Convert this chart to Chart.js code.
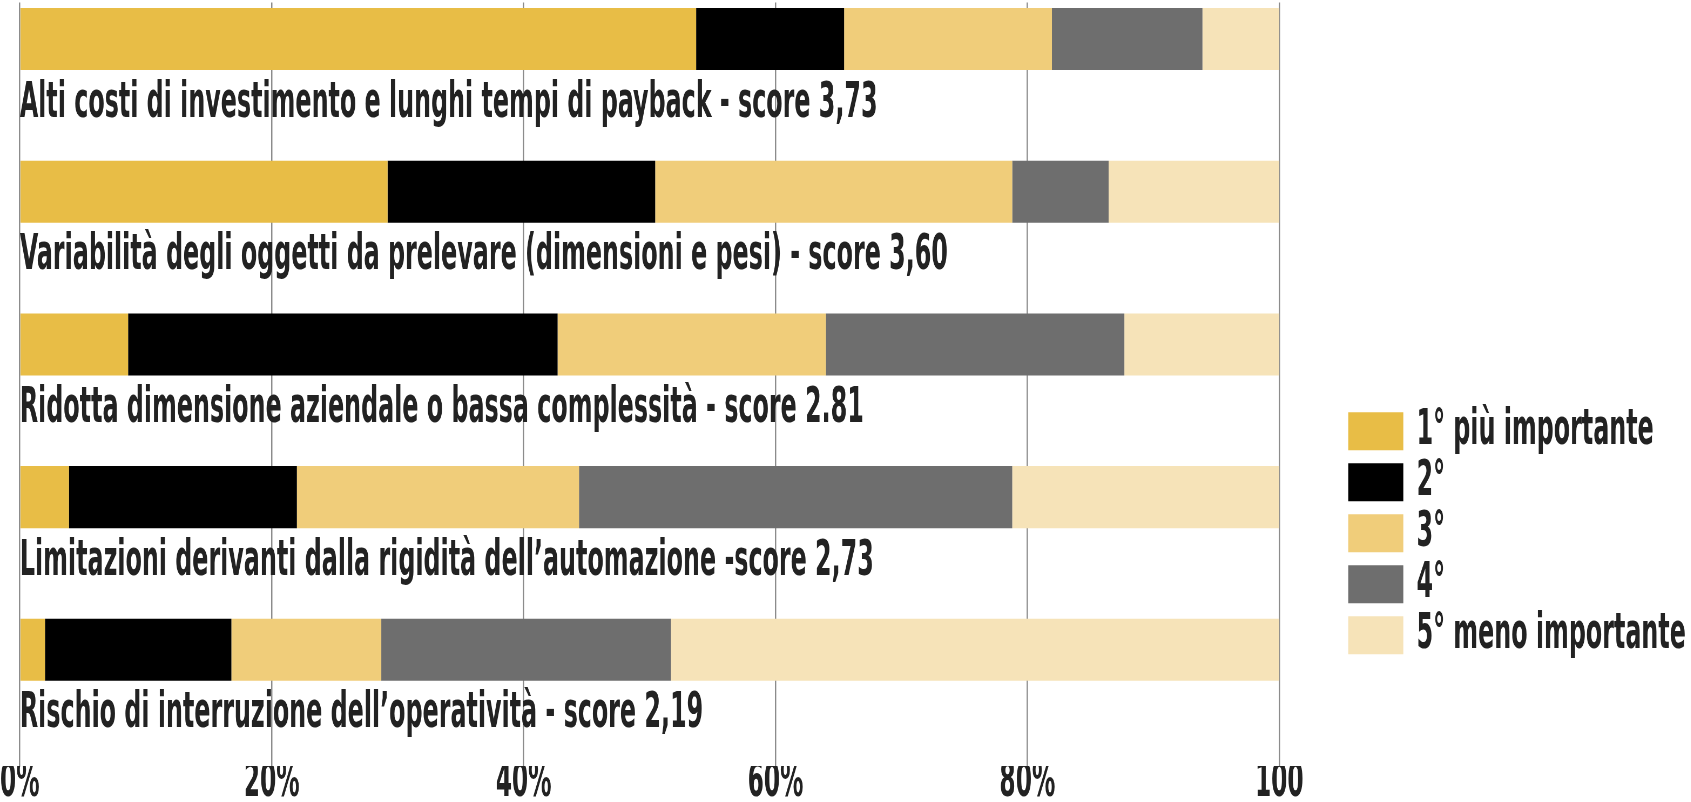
<!DOCTYPE html>
<html>
<head>
<meta charset="utf-8">
<script src="https://cdn.jsdelivr.net/npm/chart.js@4/dist/chart.umd.min.js"></script>
<style>
  body { margin: 0; background: #fff; }
  #wrap { width: 1691px; height: 802px; overflow: hidden; }
  /* the lettering in the original is very condensed: draw wide, squeeze it */
  #myChart { transform: scaleX(0.54); transform-origin: 0 0; }
</style>
</head>
<body>
<div id="wrap"><canvas id="myChart" width="3132" height="802"></canvas></div>
<script>
const categories = [
  'Alti costi di investimento e lunghi tempi di payback - score 3,73',
  'Variabilità degli oggetti da prelevare (dimensioni e pesi) - score 3,60',
  'Ridotta dimensione aziendale o bassa complessità - score 2.81',
  'Limitazioni derivanti dalla rigidità dell’automazione -score 2,73',
  'Rischio di interruzione dell’operatività - score 2,19'
];
const seriesNames = ['1° più importante', '2°', '3°', '4°', '5° meno importante'];
const rank1 = [53.7, 29.2, 8.6, 3.9, 2.0];
const rank2 = [11.75, 21.25, 34.1, 18.1, 14.8];
const rank3 = [16.5, 28.35, 21.3, 22.4, 11.9];
const rank4 = [11.95, 7.65, 23.7, 34.4, 23.0];
const rank5 = [6.1, 13.55, 12.3, 21.2, 48.3];
const xTicks = [0, 20, 40, 60, 80, 100];

const colors = ['#e8bd46', '#000000', '#f0cd7a', '#6e6e6e', '#f6e3b8'];
const FONT = "'DejaVu Sans Condensed', 'Liberation Sans Narrow', sans-serif";
const CHART_RIGHT = 2369; // canvas px where the 100 line should sit

const series = [rank1, rank2, rank3, rank4, rank5];
const datasets = series.map((vals, i) => ({
  label: seriesNames[i],
  data: vals,
  backgroundColor: colors[i],
  borderWidth: 0,
  stack: 'main',
  xAxisID: 'x',
  yAxisID: 'y'
}));
// empty second stack so the bar sits in the top half of each row, label below
datasets.push({
  label: '',
  data: categories.map(() => 0),
  backgroundColor: 'rgba(0,0,0,0)',
  borderWidth: 0,
  stack: 'pad',
  xAxisID: 'x',
  yAxisID: 'y'
});

const config = {
  type: 'bar',
  data: { labels: categories, datasets: datasets },
  options: {
    indexAxis: 'y',
    responsive: false,
    animation: false,
    devicePixelRatio: 1,
    categoryPercentage: 1.043,
    barPercentage: 0.779,
    layout: { padding: 0 },
    scales: {
      x: {
        type: 'linear',
        stacked: true,
        min: 0,
        max: 100,
        afterBuildTicks: (scale) => { scale.ticks = xTicks.map(v => ({ value: v })); },
        grid: { color: '#8c8c8c', lineWidth: 2.5, drawTicks: false },
        border: { display: false },
        ticks: {
          padding: 0,
          color: '#222',
          font: { family: FONT, size: 48, weight: 'bold', lineHeight: 0.75 },
          callback: (v) => v === 100 ? '100' : v + '%'
        }
      },
      y: {
        type: 'category',
        stacked: true,
        grid: { display: false, drawTicks: false },
        border: { display: false },
        ticks: {
          mirror: true,
          padding: 0,
          labelOffset: 25,
          color: '#222',
          font: { family: FONT, size: 49, weight: 'bold', lineHeight: 0.1 }
        }
      },
      gap: {
        type: 'linear',
        position: 'right',
        grid: { display: false, drawTicks: false },
        border: { display: false },
        ticks: { display: false },
        afterFit: (scale) => {
          const lw = scale.chart.legend ? scale.chart.legend.width : 0;
          scale.width = Math.max(0, scale.chart.width - lw - CHART_RIGHT);
        }
      }
    },
    plugins: {
      tooltip: { enabled: false },
      legend: {
        position: 'right',
        align: 'center',
        maxWidth: 3000,
        title: { display: true, text: ' ', font: { size: 12 }, padding: { top: 0, bottom: 250 } },
        labels: {
          boxWidth: 102,
          boxHeight: 38,
          padding: 2,
          color: '#222',
          font: { family: FONT, size: 49, weight: 'bold' },
          filter: (item) => item.datasetIndex < seriesNames.length
        }
      }
    }
  }
};

new Chart(document.getElementById('myChart'), config);
</script>
</body>
</html>
